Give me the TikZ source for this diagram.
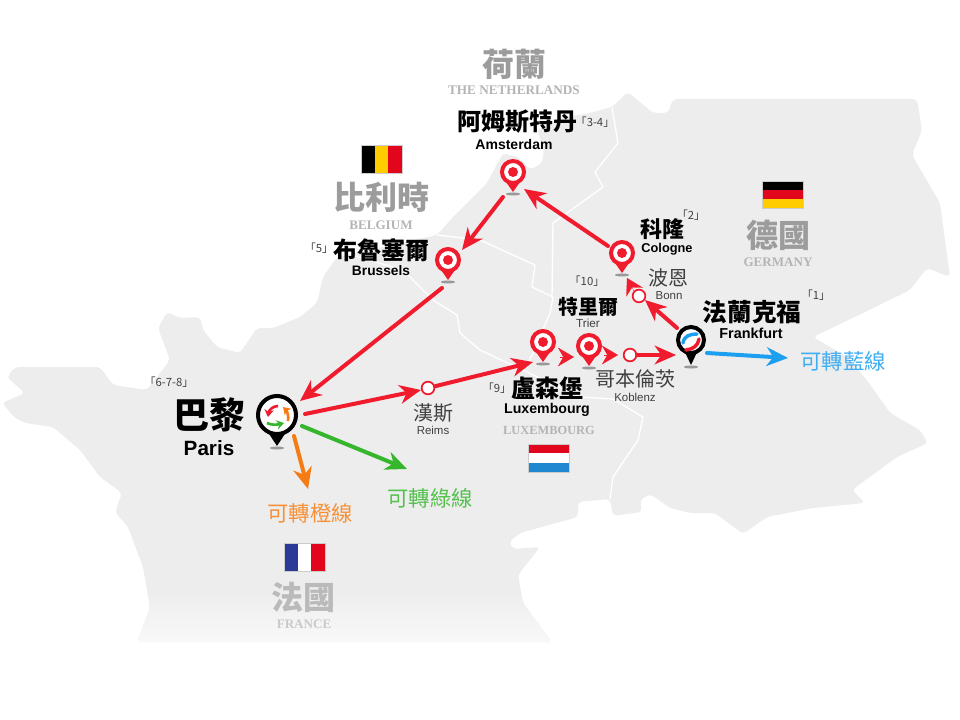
\documentclass[tikz,border=0pt]{standalone}
\usepackage{fontspec}
\usetikzlibrary{arrows.meta}
\setmainfont{Liberation Sans}
\newfontfamily\cjk{Noto Sans CJK TC}
\newfontfamily\cjkheavy{Noto Sans CJK TC Black}
\newfontfamily\latinserif{Liberation Serif}
\newcommand{\fs}[1]{\fontsize{#1}{#1}\selectfont}

\definecolor{mapgray}{HTML}{EDEDED}
\definecolor{routered}{HTML}{F01C2E}
\definecolor{routeorange}{HTML}{F57C14}
\definecolor{routegreen}{HTML}{35B62C}
\definecolor{routeblue}{HTML}{1D9FF0}
\definecolor{countrygray}{HTML}{9C9C9C}
\definecolor{englishgray}{HTML}{B4B4B4}
\definecolor{flagblue}{HTML}{2B3A96}
\definecolor{flagred}{HTML}{E2061C}
\definecolor{flagyellow}{HTML}{FFCC00}
\definecolor{flagsky}{HTML}{2088D0}

\tikzset{
  route/.style={line width=3pt,line cap=round,-{Stealth[length=16pt,width=14pt,inset=5pt]}},
  chevron/.style={draw=routered,line width=0.2pt,-{Stealth[length=12pt,width=14pt,inset=4pt]}},
  iconarrow/.style={line width=2pt,-{Stealth[length=5.5pt,width=7pt]}},
  iconswoosh/.style={line width=2.6pt,line cap=round},
  flagframe/.style={draw=black!20,line width=0.4pt},
  station/.style={circle,draw=routered,fill=white,line width=1.3pt,minimum size=9.5pt,inner sep=0pt},
  redhead/.style={circle,draw=routered,fill=white,line width=3pt,minimum size=16.5pt,inner sep=0pt},
  blackhead/.style={circle,draw=black,fill=white,line width=3pt,inner sep=0pt},
  citycn/.style={inner sep=0pt,font=\cjk\bfseries},
  cityen/.style={inner sep=0pt,font=\bfseries},
  smallcn/.style={inner sep=0pt,text=black!75,font=\cjk\fs{15}},
  smallen/.style={inner sep=0pt,text=black!75,font=\fs{8.6}},
  stopno/.style={inner sep=0pt,text=black!75,font=\cjk\fs{8.5}},
  countrycn/.style={inner sep=0pt,text=countrygray,font=\cjkheavy\fs{24}},
  countryen/.style={inner sep=0pt,text=englishgray,font=\latinserif\bfseries\fs{9.8}},
  transfer/.style={inner sep=0pt,font=\cjk\fs{16}},
}

% red pin: name, x, y
\newcommand{\redpin}[3]{
  \fill [black!40] (#2,#3+22) ellipse (7 and 1.5);
  \fill [routered] (#2-9,#3+7) -- (#2,#3+20) -- (#2+9,#3+7) -- cycle;
  \draw (#2,#3) node (#1) [redhead] {};
  \fill [routered] (#2,#3) circle (5);
}
% black pin: name, x, y, radius
\newcommand{\blackpin}[4]{
  \fill [black!40] (#2,#3+#4+12) ellipse (7 and 1.5);
  \fill [black] (#2-0.5*#4,#3+#4-6) -- (#2,#3+#4+10) -- (#2+0.5*#4,#3+#4-6) -- cycle;
  \draw (#2,#3) node (#1) [blackhead,minimum size={(2*#4-4)*0.75pt}] {};
}
% land outline
\newcommand{\mapoutline}{
  (7,377) -- (15,367) -- (100,367) -- (113,385) -- (147,390) -- (170,360) -- (158,328) -- (167,312)
  -- (180,318) -- (200,317) -- (203,330) -- (217,347) -- (240,353) -- (257,328) -- (273,328) -- (300,317)
  -- (317,303) -- (323,277) -- (337,257) -- (437,235) -- (453,217) -- (487,183) -- (503,153) -- (520,158)
  -- (530,170) -- (542,163) -- (544,150) -- (537,130) -- (560,118) -- (590,113) -- (612,107) -- (628,92)
  -- (653,113) -- (668,113) -- (673,99) -- (917,99) -- (922,130) -- (912,155) -- (940,203) -- (950,277)
  -- (927,268) -- (910,290) -- (863,313) -- (813,337) -- (847,357) -- (867,380) -- (890,413) -- (920,430)
  -- (928,443) -- (897,457) -- (852,490) -- (865,503) -- (813,508) -- (767,517) -- (743,534) -- (715,513)
  -- (690,513) -- (670,508) -- (650,494) -- (640,500) -- (642,512) -- (613,516) -- (610,499) -- (578,502)
  -- (578,517) -- (520,533) -- (509,542) -- (513,549) -- (540,547) -- (518,575) -- (523,603) -- (552,642)
  -- (137,642) -- (150,608) -- (143,567) -- (128,527) -- (115,512) -- (122,493) -- (100,477) -- (80,450)
  -- (53,427) -- (25,423) -- (15,418) -- (2,403) -- (25,393) -- (10,380) -- cycle
}

\begin{document}
\begin{tikzpicture}[x=0.75pt,y=0.75pt,yscale=-1,xscale=1]
\useasboundingbox (0,0) rectangle (960,720);

%Shape: land
\fill [mapgray,rounded corners=3pt] \mapoutline ;
\begin{scope}
\clip [rounded corners=3pt] \mapoutline ;
\shade [top color=mapgray,bottom color=white!65!mapgray] (0,590) rectangle (960,643);
\end{scope}

%Borders
\draw [white,line width=1pt,line join=round] (437,235) -- (480,240) -- (535,265) -- (532,287) -- (553,297) -- (550,313) -- (533,353) -- (527,365);
\draw [white,line width=1pt,line join=round] (612,107) -- (618,143) -- (595,172) -- (603,187) -- (553,223) -- (552,297);
\draw [white,line width=1pt,line join=round] (345,253) -- (403,270) -- (433,300) -- (457,315) -- (460,333) -- (480,350) -- (527,372) -- (580,397) -- (613,399) -- (643,417) -- (638,440) -- (613,477) -- (610,499);

%Flags
\fill [black] (361,145) rectangle (375,173);
\fill [flagyellow] (375,145) rectangle (388,173);
\fill [flagred] (388,145) rectangle (402,173);
\draw [flagframe] (361,145) rectangle (402,173);
\fill [black] (762,181) rectangle (803,190);
\fill [flagred] (762,190) rectangle (803,199);
\fill [flagyellow] (762,199) rectangle (803,208);
\draw [flagframe] (762,181) rectangle (803,208);
\fill [flagred] (528,444) rectangle (569,453);
\fill [white] (528,453) rectangle (569,463);
\fill [flagsky] (528,463) rectangle (569,472);
\draw [flagframe] (528,444) rectangle (569,472);
\fill [flagblue] (284,543) rectangle (298,571);
\fill [white] (298,543) rectangle (311,571);
\fill [flagred] (311,543) rectangle (325,571);
\draw [flagframe] (284,543) rectangle (325,571);

%Pins
\redpin{amsterdam}{513}{172}
\redpin{brussels}{448}{260}
\redpin{cologne}{622}{253}
\redpin{luxembourg}{543}{342}
\redpin{trier}{589}{346}
\blackpin{paris}{277}{415}{21}
\blackpin{frankfurt}{691}{340}{15}

%Pin icons
\draw [iconarrow,routered] (278,406) .. controls (273,406) and (269,410) .. (268,417);
\draw [iconarrow,routeorange] (288,421) .. controls (289,416) and (287,411) .. (283,407);
\draw [iconarrow,routegreen] (267,423) .. controls (271,425) and (276,425) .. (284,423);
\draw [iconswoosh,routeblue] (683,343) .. controls (684,336) and (690,334) .. (697,334);
\draw [iconswoosh,routered] (686,350) .. controls (693,349) and (698,346) .. (699,339);

%Stations
\draw (428,388) node (reims) [station] {};
\draw (639,296) node (bonn) [station] {};
\draw (630,355) node (koblenz) [station] {};

%Free ends of the connectors
\coordinate (brusselsEnd) at (462,250);
\coordinate (amsterdamOut) at (503,197);
\coordinate (amsterdamEnd) at (524,189);
\coordinate (cologneOut) at (608,246);
\coordinate (brusselsOut) at (442,288);
\coordinate (parisEnd) at (300,401);
\coordinate (parisOut) at (305,414);
\coordinate (reimsEnd) at (421,390);
\coordinate (luxEnd) at (533,362);
\coordinate (frankfurtOut) at (677,328);
\coordinate (bonnEnd) at (645,300);
\coordinate (frankfurtEnd) at (676,355);
\coordinate (orangeOut) at (294,436);
\coordinate (orangeEnd) at (308,489);
\coordinate (greenOut) at (302,426);
\coordinate (greenEnd) at (407,469);
\coordinate (blueOut) at (707,353);
\coordinate (blueEnd) at (788,358);
\coordinate (chevA) at (560,357);
\coordinate (chevAEnd) at (574,357);
\coordinate (chevB) at (604,355);
\coordinate (chevBEnd) at (618,355);
\coordinate (chevC) at (634,291);
\coordinate (chevCEnd) at (627,278);

%Route
\draw [route,routered] (amsterdamOut) -- (brusselsEnd);
\draw [route,routered] (cologneOut) -- (amsterdamEnd);
\draw [route,routered] (brusselsOut) -- (parisEnd);
\draw [route,routered] (parisOut) -- (reimsEnd);
\draw [route,routered] (reims) -- (luxEnd);
\draw [route,routered] (frankfurtOut) -- (bonnEnd);
\draw [route,routered] (koblenz) -- (frankfurtEnd);
\draw [chevron] (chevA) -- (chevAEnd);
\draw [chevron] (chevB) -- (chevBEnd);
\draw [chevron] (chevC) -- (chevCEnd);
\draw [route,routeorange] (orangeOut) -- (orangeEnd);
\draw [route,routegreen] (greenOut) -- (greenEnd);
\draw [route,routeblue] (blueOut) -- (blueEnd);

% Text Node
\draw (514,64) node (hollandcn) [countrycn] {荷蘭};
\draw (514,90) node (hollanden) [countryen,font=\latinserif\bfseries\fs{9.9}] {THE NETHERLANDS};
\draw (381,197) node (belgiumcn) [countrycn] {比利時};
\draw (381,225) node (belgiumen) [countryen] {BELGIUM};
\draw (778,235) node (germanycn) [countrycn] {德國};
\draw (778,262) node (germanyen) [countryen] {GERMANY};
\draw (549,430) node (luxcountry) [countryen,font=\latinserif\bfseries\fs{9.3}] {LUXEMBOURG};
\draw (303,597) node (francecn) [countrycn,text=countrygray!70] {法國};
\draw (304,624) node (franceen) [countryen,text=englishgray!70] {FRANCE};
% Text Node
\draw (517,122) node (amsterdamcn) [citycn,font=\cjk\bfseries\fs{18}] {阿姆斯特丹};
\draw (514,144) node (amsterdamen) [cityen,font=\bfseries\fs{10.5}] {Amsterdam};
\draw (595,122) node (amsterdamno) [stopno] {「3-4」};
\draw (381,250) node (brusselscn) [citycn,font=\cjk\bfseries\fs{18}] {布魯塞爾};
\draw (381,271) node (brusselsen) [cityen,font=\bfseries\fs{10.3}] {Brussels};
\draw (319,248) node (brusselsno) [stopno] {「5」};
\draw (662,229) node (colognecn) [citycn,font=\cjk\bfseries\fs{16.5}] {科隆};
\draw (667,249) node (cologneen) [cityen,font=\bfseries\fs{9.6}] {Cologne};
\draw (691,215) node (cologneno) [stopno] {「2」};
\draw (588,307) node (triercn) [citycn,font=\cjk\bfseries\fs{15}] {特里爾};
\draw (588,323) node (trieren) [smallen,font=\fs{8.8}] {Trier};
\draw (587,281) node (trierno) [stopno] {「10」};
\draw (752,312) node (frankfurtcn) [citycn,font=\cjk\bfseries\fs{18.5}] {法蘭克福};
\draw (751,333) node (frankfurten) [cityen,font=\bfseries\fs{10.8}] {Frankfurt};
\draw (816,295) node (frankfurtno) [stopno] {「1」};
\draw (547,388) node (luxcn) [citycn,font=\cjk\bfseries\fs{18}] {盧森堡};
\draw (547,410) node (luxen) [cityen,font=\bfseries\fs{10.6}] {Luxembourg};
\draw (497,388) node (luxno) [stopno] {「9」};
\draw (209,415) node (pariscn) [citycn,font=\cjk\bfseries\fs{27}] {巴黎};
\draw (209,448) node (parisen) [cityen,font=\bfseries\fs{15.5}] {Paris};
\draw (169,382) node (parisno) [stopno] {「6-7-8」};
% Text Node
\draw (668,278) node (bonncn) [smallcn] {波恩};
\draw (669,296) node (bonnen) [smallen] {Bonn};
\draw (635,379) node (koblenzcn) [smallcn] {哥本倫茨};
\draw (635,397) node (koblenzen) [smallen] {Koblenz};
\draw (433,413) node (reimscn) [smallcn] {漢斯};
\draw (433,430) node (reimsen) [smallen] {Reims};
% Text Node
\draw (843,361) node (bluelabel) [transfer,text=routeblue!85!white] {可轉藍線};
\draw (430,498) node (greenlabel) [transfer,text=routegreen!85!white] {可轉綠線};
\draw (310,513) node (orangelabel) [transfer,text=routeorange!85!white] {可轉橙線};

\end{tikzpicture}
\end{document}
